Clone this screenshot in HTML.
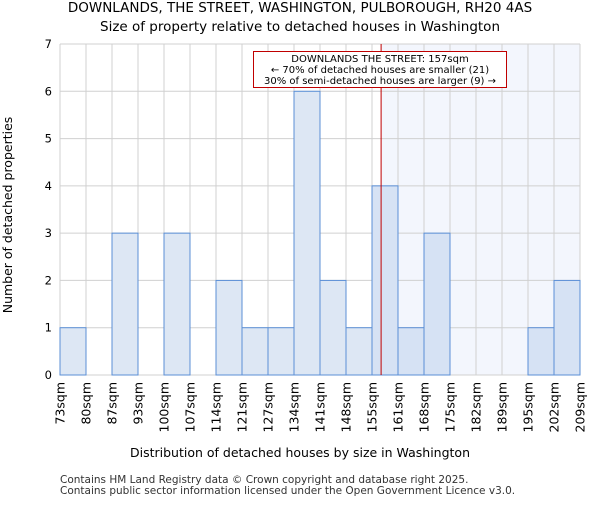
<!DOCTYPE html>
<html><head><meta charset="utf-8"><style>
body{margin:0;background:#fff;}
svg{font-family:"DejaVu Sans","Liberation Sans",sans-serif;}
</style></head><body>
<svg id="chart" width="600" height="500">
<text x="300" y="12" text-anchor="middle" font-size="13.5">DOWNLANDS, THE STREET, WASHINGTON, PULBOROUGH, RH20 4AS</text>
<text x="300" y="31" text-anchor="middle" font-size="13.5">Size of property relative to detached houses in Washington</text>
<g id="plot"></g>
<text x="300" y="457" text-anchor="middle" font-size="12.5">Distribution of detached houses by size in Washington</text>
<text transform="translate(12,215) rotate(-90)" text-anchor="middle" font-size="12.5">Number of detached properties</text>
<text x="60" y="483" font-size="10.5" fill="#333">Contains HM Land Registry data © Crown copyright and database right 2025.</text>
<text x="60" y="494" font-size="10.5" fill="#333">Contains public sector information licensed under the Open Government Licence v3.0.</text>
</svg>
<script>
const binLabels=["73sqm","80sqm","87sqm","93sqm","100sqm","107sqm","114sqm","121sqm","127sqm","134sqm","141sqm","148sqm","155sqm","161sqm","168sqm","175sqm","182sqm","189sqm","195sqm","202sqm","209sqm"];
const counts=[1,0,3,0,3,0,2,1,1,6,2,1,4,1,3,0,0,0,1,2];
const yTicks=[0,1,2,3,4,5,6,7];
const markerBin=12.35;
const NS="http://www.w3.org/2000/svg";
const L=60,R=580,T=44,B=375,yMax=7;
const n=counts.length;
const xs=i=>L+(R-L)*i/n;
const ys=v=>B-(B-T)*v/yMax;
const g=document.getElementById('plot');
function mk(t,a){const e=document.createElementNS(NS,t);for(const k in a)e.setAttribute(k,a[k]);g.appendChild(e);return e;}
const mx=xs(markerBin);
let e=mk('rect',{x:mx,y:T,width:R-mx,height:B-T,fill:'#f3f6fd'});


for(let i=0;i<=n;i++){e=mk('line',{x1:xs(i),x2:xs(i),y1:T,y2:B,stroke:'#d0d0d0','stroke-width':1});

}
yTicks.forEach(v=>{e=mk('line',{x1:L,x2:R,y1:ys(v),y2:ys(v),stroke:'#d0d0d0','stroke-width':1});


e=mk('text',{x:L-8,y:ys(v)+4,'text-anchor':'end','font-size':11.5});e.textContent=v;

});
counts.forEach((c,i)=>{if(c<=0)return;
e=mk('rect',{x:xs(i),y:ys(c),width:xs(i+1)-xs(i),height:B-ys(c),fill:xs(i)>=mx-13?'#d6e2f4':'#dde7f4',stroke:'#5b8fd6','stroke-width':1});

});
binLabels.forEach((t,i)=>{e=mk('text',{transform:`translate(${xs(i)+4.5},382) rotate(-90)`,'text-anchor':'end','font-size':12.5});e.textContent=t;

});
e=mk('line',{x1:mx,x2:mx,y1:T,y2:B,stroke:'#c00000','stroke-width':1});


e=mk('rect',{x:253.5,y:51.5,width:253,height:36,fill:'#fff',stroke:'#c00000','stroke-width':1});


["DOWNLANDS THE STREET: 157sqm","← 70% of detached houses are smaller (21)","30% of semi-detached houses are larger (9) →"].forEach((t,i)=>{
e=mk('text',{x:380,y:62+i*11,'text-anchor':'middle','font-size':10});e.textContent=t;

});
</script>
</body></html>
